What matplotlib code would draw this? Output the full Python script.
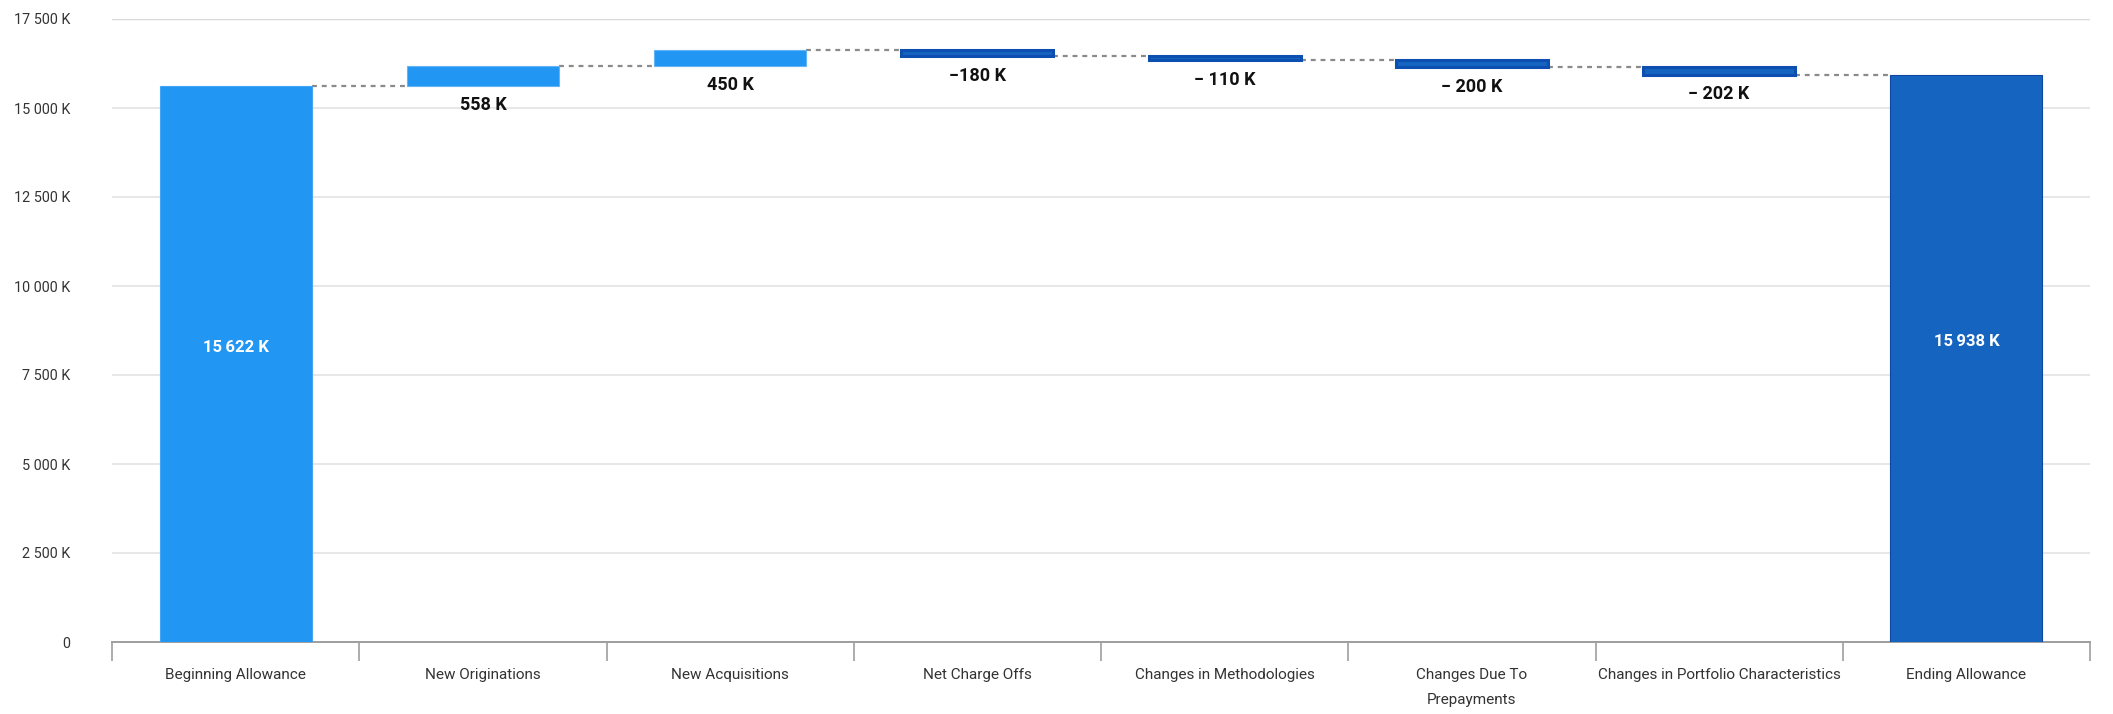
import matplotlib
matplotlib.use("Agg")
import matplotlib.pyplot as plt
import numpy as np

plt.rcParams['font.family'] = ['Roboto', 'DejaVu Sans']

# data (thousands)
categories = ['Beginning Allowance', 'New Originations', 'New Acquisitions', 'Net Charge Offs',
              'Changes in Methodologies', 'Changes Due To\nPrepayments',
              'Changes in Portfolio Characteristics', 'Ending Allowance']
start_value = 15622
changes = [558, 450, -180, -110, -200, -202]
change_labels = ['558 K', '450 K', '\u2212180 K', '\u2212 110 K', '\u2212 200 K', '\u2212 202 K']
y_ticks = [0, 2500, 5000, 7500, 10000, 12500, 15000, 17500]

col_up = '#2196F3'
col_down = '#1565C0'
col_total_start = '#2196F3'
col_total_end = '#1565C0'

end_value = start_value + sum(changes)

fig = plt.figure(figsize=(21.13, 7.14), dpi=100)
ax = fig.add_axes([112/2113, 1 - 642/714, (2090 - 112)/2113, (642 - 19)/714])

bw = 0.615
x = np.arange(len(categories))

# bars: start total, deltas, end total
bottoms, heights, colors, edges, lws = [0], [start_value], [col_total_start], ['#42A5F5'], [0.8]
running = start_value
levels = [start_value]
for c in changes:
    if c >= 0:
        bottoms.append(running); heights.append(c); colors.append(col_up)
        edges.append('#64B5F6'); lws.append(0.8)
    else:
        bottoms.append(running + c); heights.append(-c); colors.append(col_down)
        edges.append('#0D4FB0'); lws.append(2.2)
    running += c
    levels.append(running)
bottoms.append(0); heights.append(end_value); colors.append(col_total_end)
edges.append('#0D47A1'); lws.append(0.8)

ax.bar(x, heights, bottom=bottoms, width=bw, color=colors, edgecolor=edges, linewidth=lws, zorder=3)

# dotted connectors between bars
for i, lvl in enumerate(levels):
    ax.plot([x[i] + bw/2, x[i + 1] - bw/2], [lvl, lvl], color='#8a8a8a', lw=1.6,
            dashes=(2.2, 2.2), zorder=2)

# labels
def fmt_k(v):
    return f"{v:,}".replace(',', '\u2009') + ' K'

ax.text(x[0], start_value * 0.53, fmt_k(start_value), ha='center', va='center',
        color='white', fontsize=12, fontweight='bold', zorder=4)
ax.text(x[-1], end_value * 0.53, fmt_k(end_value), ha='center', va='center',
        color='white', fontsize=12, fontweight='bold', zorder=4)
for i, lab in enumerate(change_labels):
    ax.annotate(lab, (x[i + 1], bottoms[i + 1]), xytext=(0, -14), textcoords='offset points',
                ha='center', va='center', fontsize=13, fontweight='bold', color='#111111', zorder=4)

# axes styling
ax.set_xlim(-0.5, len(categories) - 0.5)
ax.set_ylim(0, 17500)
ax.set_yticks(y_ticks)
ax.set_yticklabels([('0' if v == 0 else f"{v:,}".replace(',', ' ') + ' K') for v in y_ticks])
ax.tick_params(axis='y', length=0, pad=30, labelsize=10.4, labelcolor='#333333')
ax.grid(axis='y', color='#e3e3e3', lw=1.2, zorder=0)
ax.axhline(17500, color='#b5b5b5', lw=1.6, zorder=1)

ax.set_xticks(x)
ax.set_xticklabels(categories, fontsize=11, color='#333333', linespacing=2.0, va='top')
ax.tick_params(axis='x', length=0, pad=19)
ax.set_xticks(np.arange(len(categories) + 1) - 0.5, minor=True)
ax.tick_params(axis='x', which='minor', length=14, width=1.2, color='#9e9e9e')

for s in ['top', 'right', 'left']:
    ax.spines[s].set_visible(False)
ax.spines['bottom'].set_color('#9e9e9e')
ax.spines['bottom'].set_linewidth(1.4)

fig.savefig('out.png', dpi=100)
